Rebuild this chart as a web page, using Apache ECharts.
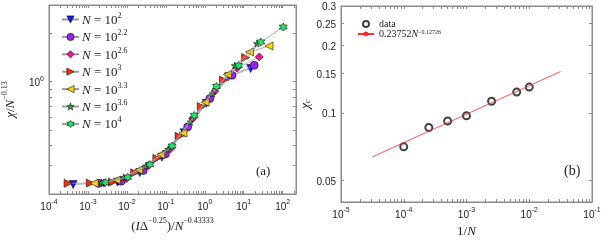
<!DOCTYPE html>
<html>
<head>
<meta charset="utf-8">
<script src="https://cdn.jsdelivr.net/npm/echarts@6/dist/echarts.min.js"></script>
<style>
html,body{margin:0;padding:0;background:#fff}
#main{width:609px;height:244px}
</style>
</head>
<body>
<div id="main"></div>
<script>
// ---- (a) scaling collapse, one x/y pair per system size N = 10^e
const nExp = ['2', '2.2', '2.6', '3', '3.3', '3.6', '4']

const x_n2 = [4.17e-4, 5.75e-3, 2.14e-2, 7.94e-2, 0.295, 1.10, 4.07, 15.1]
const y_n2 = [0.229, 0.237, 0.272, 0.339, 0.481, 0.733, 1.072, 1.208]

const x_n22 = [1.91e-3, 7.08e-3, 2.63e-2, 9.77e-2, 0.363, 1.35, 5.01, 18.6]
const y_n22 = [0.233, 0.240, 0.280, 0.355, 0.522, 0.785, 1.096, 1.265]

const x_n26 = [2.57e-3, 9.55e-3, 3.55e-2, 0.132, 0.490, 1.82, 6.76, 25.1]
const y_n26 = [0.234, 0.249, 0.301, 0.382, 0.589, 0.871, 1.216, 1.426]

const x_n3 = [3.09e-4, 1.15e-3, 4.27e-3, 1.58e-2, 5.89e-2, 0.219, 0.813, 3.02, 11.2]
const y_n3 = [0.233, 0.234, 0.237, 0.271, 0.333, 0.457, 0.700, 1.023, 1.413]

const x_n33 = [1.45e-3, 5.37e-3, 2.0e-2, 7.41e-2, 0.275, 1.02, 3.80, 14.1, 44.7]
const y_n33 = [0.233, 0.244, 0.282, 0.351, 0.479, 0.745, 1.109, 1.531, 1.667]

const x_n36 = [2.24e-3, 8.32e-3, 3.09e-2, 0.115, 0.427, 1.58, 5.89, 21.9]
const y_n36 = [0.236, 0.254, 0.299, 0.380, 0.562, 0.841, 1.259, 1.726]

const x_n4 = [2.82e-3, 1.05e-2, 3.89e-2, 0.145, 0.537, 2.0, 7.41, 27.5, 103.5]
const y_n4 = [0.236, 0.254, 0.305, 0.398, 0.617, 0.933, 1.259, 1.766, 2.188]

// ---- (b) critical chi vs 1/N and its power-law fit
const invN = [1e-4, 2.51e-4, 5.01e-4, 1e-3, 2.51e-3, 6.31e-3, 1e-2]
const chiC = [0.0705, 0.086, 0.092, 0.097, 0.1127, 0.1238, 0.1303]
const fitX = [3.16e-5, 3.16e-2]
const fitY = [0.0636, 0.153]

// tick labels
const aXLabels = [1e-4, 1e-3, 1e-2, 1e-1, 1, 10, 100]
const aYLabels = [1]
const bXLabels = [1e-5, 1e-4, 1e-3, 1e-2, 1e-1]
const bYLabels = [0.05, 0.1, 0.15, 0.2, 0.25, 0.3]

const chart = echarts.init(document.getElementById('main'))

const serif = 'Liberation Serif'
const sans = 'Liberation Sans'
const boxColor = '#8a8a8a'

function decadeTicks(lo, hi, max) {
    const t = []
    for (let e = lo; e <= hi; e++) {
        for (let k = 1; k < 10; k++) {
            const v = k * Math.pow(10, e)
            if (v <= max * 1.0001) t.push(v)
        }
    }
    return t
}

const supRich = {
    b: { fontFamily: sans, fontSize: 10, color: '#222', lineHeight: 13, verticalAlign: 'bottom' },
    s: { fontFamily: sans, fontSize: 7, color: '#222', lineHeight: 9, verticalAlign: 'top' }
}
const mathRich = {
    r: { fontFamily: serif, fontSize: 13, color: '#222', lineHeight: 16, verticalAlign: 'bottom' },
    i: { fontFamily: serif, fontStyle: 'italic', fontSize: 13, color: '#222', lineHeight: 16, verticalAlign: 'bottom' },
    s: { fontFamily: serif, fontSize: 8, color: '#222', lineHeight: 10, verticalAlign: 'top' },
    ci: { fontFamily: serif, fontStyle: 'italic', fontSize: 13, color: '#222', lineHeight: 14, verticalAlign: 'top' },
    cs: { fontFamily: serif, fontStyle: 'italic', fontSize: 9, color: '#222', lineHeight: 10, verticalAlign: 'bottom' }
}

function logAxis(grid, pos, min, max, ticks, labels, fmt) {
    const ax = {
        type: 'log', gridIndex: grid, position: pos, min: min, max: max,
        axisLine: { show: true, onZero: false, lineStyle: { color: boxColor, width: 1 } },
        axisTick: { show: true, inside: true, length: 3, customValues: ticks, lineStyle: { color: boxColor } },
        axisLabel: { show: false },
        splitLine: { show: false }
    }
    if (labels) {
        ax.axisLabel = { show: true, customValues: labels, formatter: fmt, margin: 5, rich: supRich }
    }
    return ax
}

const powFmt = v => '{b|10}{s|' + Math.round(Math.log10(v)) + '}'

const aXTicks = decadeTicks(-4, 2, 220)
const aYTicks = [0.2, 0.3, 0.4, 0.5, 0.6, 0.7, 0.8, 0.9, 1, 2, 3]
const bXTicks = decadeTicks(-5, -1, 0.1)
const bYTicks = bYLabels

const xAxes = [
    Object.assign(logAxis(0, 'bottom', 1e-4, 220, aXTicks, aXLabels, powFmt), {
        name: '{r|(}{i|I}{r|Δ}{s|−0.25}{r|)/}{i|N}{s|−0.43333}',
        nameLocation: 'middle', nameGap: 20, nameTextStyle: { rich: mathRich }
    }),
    logAxis(0, 'top', 1e-4, 220, aXTicks),
    Object.assign(logAxis(1, 'bottom', 1e-5, 0.1, bXTicks, bXLabels, powFmt), {
        name: '{r|1/}{i|N}',
        nameLocation: 'middle', nameGap: 16, nameTextStyle: { rich: mathRich }
    }),
    logAxis(1, 'top', 1e-5, 0.1, bXTicks)
]
const yAxes = [
    Object.assign(logAxis(0, 'left', 0.2, 3, aYTicks, aYLabels, () => '{b|10}{s|0}'), {
        name: '{i|χ}{r|/}{i|N}{s|−0.13}',
        nameLocation: 'middle', nameGap: 32, nameRotate: 90, nameTextStyle: { rich: mathRich }
    }),
    logAxis(0, 'right', 0.2, 3, aYTicks),
    Object.assign(logAxis(1, 'left', 0.04, 0.3, bYTicks, bYLabels, v => '{b|' + v + '}'), {
        name: '{ci|χ}{cs|c}',
        nameLocation: 'middle', nameGap: 28, nameRotate: 90, nameTextStyle: { rich: mathRich }
    }),
    logAxis(1, 'right', 0.04, 0.3, bYTicks)
]

const seriesX = [x_n2, x_n22, x_n26, x_n3, x_n33, x_n36, x_n4]
const seriesY = [y_n2, y_n22, y_n26, y_n3, y_n33, y_n36, y_n4]
const colors = ['#1414ff', '#9b1ff0', '#f0149b', '#ff2a0a', '#ffd700', '#2aa82a', '#22e36a']
const symbols = [
    'path://M0,0 L10,0 5,9Z',
    'circle',
    'diamond',
    'path://M0,0 L9,5 0,10Z',
    'path://M9,0 L0,5 9,10Z',
    'path://M0,-10 L2.35,-3.24 9.51,-3.09 3.8,1.24 5.88,8.09 0,4 -5.88,8.09 -3.8,1.24 -9.51,-3.09 -2.35,-3.24Z',
    'path://M0,-10 L2.89,-5 8.66,-5 5.77,0 8.66,5 2.89,5 0,10 -2.89,5 -8.66,5 -5.77,0 -8.66,-5 -2.89,-5Z'
]
const sizes = [8, 8, 8, 8, 8, 7, 8]

const names = nExp.map(e => 'N' + e)
const series = names.map((name, i) => ({
    type: 'line',
    name: name,
    xAxisIndex: 0,
    yAxisIndex: 0,
    data: seriesX[i].map((x, j) => [x, seriesY[i][j]]),
    symbol: symbols[i],
    symbolSize: sizes[i],
    itemStyle: { color: colors[i], borderColor: '#111', borderWidth: 0.6 },
    lineStyle: { color: '#9a9a9a', width: 0.8 },
    z: 2 + i
}))

series.push({
    type: 'scatter',
    name: 'data',
    xAxisIndex: 2,
    yAxisIndex: 2,
    data: invN.map((x, j) => [x, chiC[j]]),
    symbol: 'emptyCircle',
    symbolSize: 7,
    itemStyle: { color: '#111', borderWidth: 0.9 }
})
series.push({
    type: 'line',
    name: 'fit',
    xAxisIndex: 2,
    yAxisIndex: 2,
    data: fitX.map((x, j) => [x, fitY[j]]),
    symbol: 'circle',
    symbolSize: 2,
    showSymbol: false,
    itemStyle: { color: '#ff2a2a' },
    lineStyle: { color: '#ff2a2a', width: 0.8 }
})

const legendRich = {
    i: { fontFamily: serif, fontStyle: 'italic', fontSize: 13, color: '#222', lineHeight: 15, verticalAlign: 'bottom' },
    r: { fontFamily: serif, fontSize: 13, color: '#222', lineHeight: 15, verticalAlign: 'bottom' },
    s: { fontFamily: serif, fontSize: 8, color: '#222', lineHeight: 9, verticalAlign: 'top' },
    t: { fontFamily: serif, fontSize: 10, color: '#222', lineHeight: 10, verticalAlign: 'bottom' },
    ti: { fontFamily: serif, fontStyle: 'italic', fontSize: 10, color: '#222', lineHeight: 10, verticalAlign: 'bottom' },
    ts: { fontFamily: serif, fontSize: 6, color: '#222', lineHeight: 7, verticalAlign: 'top' }
}

const option = {
    animation: false,
    backgroundColor: '#fff',
    grid: [
        { left: 44, top: 5, width: 252, height: 189, show: true, borderColor: boxColor, borderWidth: 1, backgroundColor: 'transparent' },
        { left: 341, top: 6, width: 251, height: 196, show: true, borderColor: boxColor, borderWidth: 1, backgroundColor: 'transparent' }
    ],
    xAxis: xAxes,
    yAxis: yAxes,
    legend: [
        {
            data: names,
            orient: 'vertical',
            left: 56,
            top: 7,
            itemWidth: 17,
            itemHeight: 9,
            itemGap: 2.4,
            itemStyle: { borderWidth: 0.6, borderColor: '#111' },
            formatter: name => '{i|N}{r| = 10}{s|' + name.slice(1) + '}',
            textStyle: { rich: legendRich, padding: [0, 0, 0, -2] }
        },
        {
            data: ['data', 'fit'],
            orient: 'vertical',
            left: 352,
            top: 14,
            itemWidth: 16,
            itemHeight: 6,
            itemGap: 0,
            itemStyle: { borderWidth: 0.9 },
            formatter: name => name === 'data' ? '{t|data}' : '{t|0.23752}{ti|N}{ts|−0.12726}',
            textStyle: { rich: legendRich }
        }
    ],
    graphic: [
        { type: 'text', left: 256, top: 165, style: { text: '(a)', font: '13px "Liberation Serif"', fill: '#222' } },
        { type: 'text', left: 564, top: 164, style: { text: '(b)', font: '14px "Liberation Serif"', fill: '#222' } }
    ],
    series: series
}

chart.setOption(option)
</script>
</body>
</html>
